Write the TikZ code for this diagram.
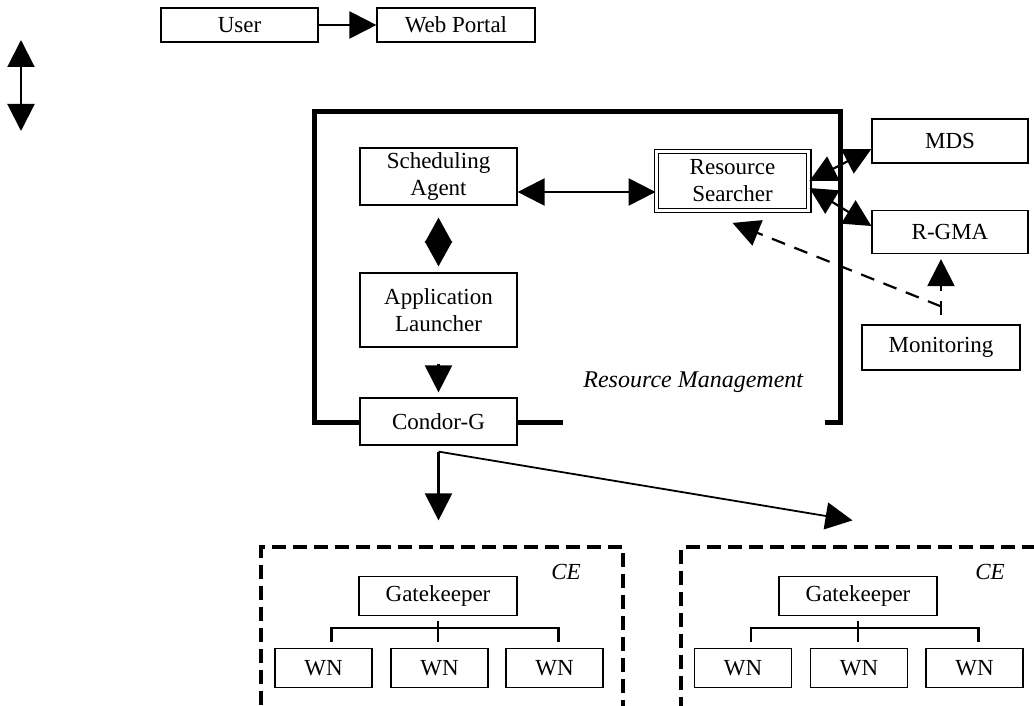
\documentclass[tikz,border=0pt]{standalone}
\usepackage{fontspec}
\setmainfont{Liberation Serif}
\usetikzlibrary{arrows.meta}

\newcommand{\rmfont}{\fontsize{11.5}{13.5}\selectfont}

\tikzset{
  box/.style={draw, line width=0.6pt, fill=white, align=center, inner sep=0pt, minimum width=78.5pt},
  wnbox/.style={box, minimum width=48.5pt, minimum height=19.5pt},
  cebox/.style={draw, line width=1.6pt, dash pattern=on 7pt off 3.5pt, inner sep=0pt},
  frame/.style={line width=2.5pt},
  bus/.style={line width=1.2pt},
  arr/.style={line width=1.1pt, -{Triangle[length=13.5pt,width=13.5pt]}},
  dblarr/.style={line width=1.1pt, {Triangle[length=13.5pt,width=13.5pt]}-{Triangle[length=13.5pt,width=13.5pt]}},
  dasharr/.style={arr, dash pattern=on 7pt off 5pt}
}

\begin{document}
\begin{tikzpicture}[x=0.5pt, y=-0.5pt, every node/.style={font=\rmfont}]
  \useasboundingbox (0,0) rectangle (1034,706);

  % resource management frame
  \draw[frame] (563,422) -- (314,422) -- (314,112) -- (840,112) -- (840,422) -- (825,422);
  \node[anchor=base west, inner sep=0pt, font=\fontsize{12}{14}\selectfont\itshape] (rmlabel) at (583,387) {Resource Management};

  \node[box, minimum height=17pt] (user) at (239.5,25) {User};
  \node[box, minimum width=79pt, minimum height=17pt] (portal) at (456,25) {Web Portal};

  \node[box, minimum height=28.5pt] (sched) at (438.5,176.5) {Scheduling\\Agent};
  \node[box, minimum height=37pt] (launch) at (438.5,310) {Application\\Launcher};
  \node[box, minimum height=23.5pt] (condor) at (438.5,421.5) {Condor-G};
  \node[box, double, line width=0.6pt, double distance=1.5pt, minimum width=76.3pt, minimum height=29.3pt] (search) at (732.5,181) {Resource\\Searcher};

  \node[box, minimum width=78pt, minimum height=22pt] (mds) at (950,141) {MDS};
  \node[box, minimum width=78pt, minimum height=21.5pt] (rgma) at (950,232) {R-GMA};
  \node[box, minimum width=79pt, minimum height=22.5pt] (monitor) at (941,347.5) {Monitoring};

  % computing elements
  \node[cebox, minimum width=181pt, minimum height=80.75pt] (ce1) at (442,627.75) {};
  \node[cebox, minimum width=179.5pt, minimum height=80.75pt] (ce2) at (860.5,627.75) {};
  \node[font=\rmfont\itshape] (celabel1) at (566,572) {CE};
  \node[font=\rmfont\itshape] (celabel2) at (990,572) {CE};

  \node[box, minimum width=79pt, minimum height=19.5pt] (gate1) at (438,596) {Gatekeeper};
  \node[box, minimum width=79pt, minimum height=19.5pt] (gate2) at (858,596) {Gatekeeper};
  \node[wnbox] (wn11) at (323.5,668) {WN};
  \node[wnbox] (wn12) at (439.5,668) {WN};
  \node[wnbox] (wn13) at (554.5,668) {WN};
  \node[wnbox] (wn21) at (743,668) {WN};
  \node[wnbox] (wn22) at (859,668) {WN};
  \node[wnbox] (wn23) at (974.5,668) {WN};

  \foreach \c in {1,2} {
    \draw[bus, shorten <=2.5pt, shorten >=3pt] (gate\c.south) -- (gate\c.south |- wn\c2.north);
    \draw[bus] ([xshift=4pt,yshift=3pt]wn\c1.north) |- ([xshift=2pt,yshift=10pt]wn\c3.north) -- ([xshift=2pt,yshift=3pt]wn\c3.north);
  }

  \coordinate (axistop) at (21,40);
  \coordinate (axisbot) at (21,131);

  \draw[dblarr, line width=1pt] (axistop) -- (axisbot);
  \draw[arr] (user) -- (portal);
  \draw[dblarr] ([yshift=-7.75pt]sched.east) -- ([yshift=-5.5pt]search.west);
  \draw[line width=1.1pt, {Triangle[length=12.5pt,width=13.5pt]}-{Triangle[length=12.5pt,width=13.5pt]}, shorten <=6pt, shorten >=3pt] (sched.south) -- (launch.north);
  \draw[arr, shorten <=8pt, shorten >=2.5pt] (launch.south) -- (condor.north);
  \draw[dblarr] (search.east) -- ([yshift=-4pt]mds.west);
  \draw[dblarr] ([yshift=-3.5pt]search.east) -- ([yshift=3pt]rgma.west);
  \draw[dasharr, shorten <=4.5pt, shorten >=2.5pt] (monitor.north) -- (monitor.north |- rgma.south);
  \draw[dasharr] ([yshift=9pt]monitor.north) -- ([yshift=-6pt]search.south);
  \draw[arr, shorten <=3pt, shorten >=12.5pt] (condor.south) -- (condor.south |- ce1.north);
  \draw[arr, line width=0.9pt] ([yshift=-3pt]condor.south) -- ([xshift=-4pt,yshift=12.5pt]ce2.north);
\end{tikzpicture}
\end{document}
